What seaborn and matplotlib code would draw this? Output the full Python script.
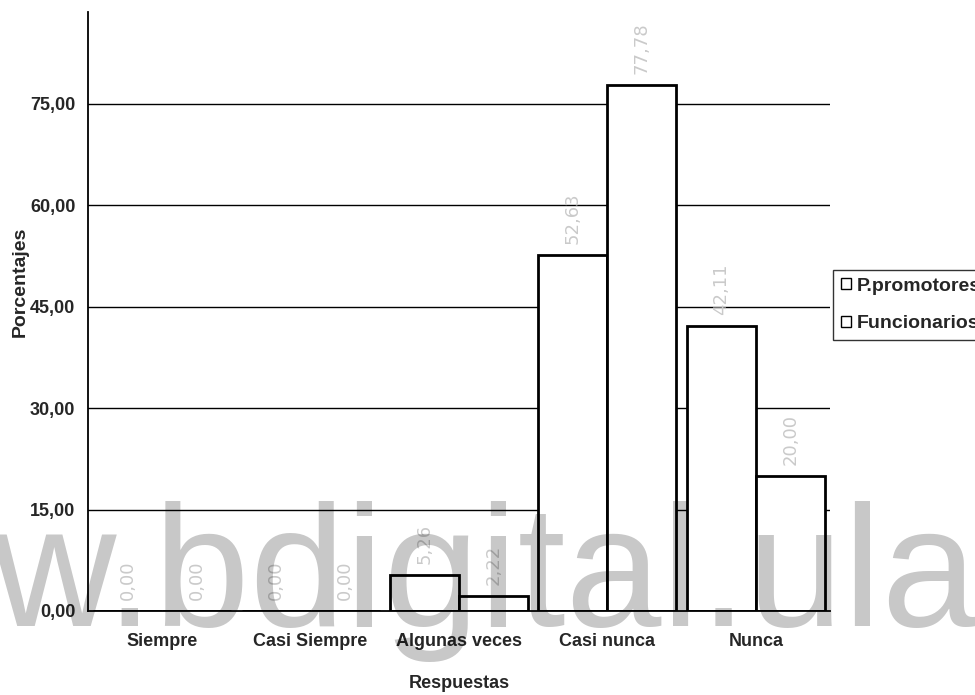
import matplotlib
matplotlib.use("Agg")
import matplotlib.pyplot as plt
from matplotlib.ticker import FuncFormatter, FixedLocator
import seaborn as sns
import pandas as pd

categorias = ["Siempre", "Casi Siempre", "Algunas veces", "Casi nunca", "Nunca"]
promotores = [0.00, 0.00, 5.26, 52.63, 42.11]
funcionarios = [0.00, 0.00, 2.22, 77.78, 20.00]
series = ["P.promotores", "Funcionarios"]
y_ticks = [0, 15, 30, 45, 60, 75]

df = pd.DataFrame({
    "Respuestas": categorias * 2,
    "Serie": [series[0]] * len(categorias) + [series[1]] * len(categorias),
    "Porcentaje": promotores + funcionarios,
})

sns.set_style("white")
FAM = ["Liberation Sans Narrow", "Liberation Sans", "DejaVu Sans"]
plt.rcParams["font.family"] = FAM

fig = plt.figure(figsize=(9.75, 6.95), dpi=100)
ax = fig.add_axes([88 / 975, 84 / 695, 742 / 975, 599 / 695])

sns.barplot(data=df, x="Respuestas", y="Porcentaje", hue="Serie",
            palette=["white", "white"], edgecolor="black", linewidth=2,
            width=0.93, saturation=1, errorbar=None, ax=ax, zorder=3)

ax.set_ylim(0, 88.6)
ax.set_xlim(-0.5, len(categorias) - 0.5)
ax.yaxis.set_major_locator(FixedLocator(y_ticks))
ax.yaxis.set_major_formatter(FuncFormatter(lambda v, p: f"{v:.2f}".replace(".", ",")))
for v in y_ticks[1:]:
    ax.axhline(v, color="black", lw=1.0, zorder=1)

for s in ["top", "right"]:
    ax.spines[s].set_visible(False)
for s in ["left", "bottom"]:
    ax.spines[s].set_color("black")
    ax.spines[s].set_linewidth(1.3)
ax.spines["bottom"].set_zorder(4)

ax.tick_params(axis="y", direction="out", length=5, width=1, color="black",
               pad=4, labelsize=13)
for t in ax.get_yticklabels():
    t.set_fontweight("bold")
ax.tick_params(axis="x", which="major", length=0, pad=16, labelsize=13)
for t in ax.get_xticklabels():
    t.set_fontweight("bold")
ax.set_xticks([i - 0.5 for i in range(len(categorias) + 1)], minor=True)
ax.tick_params(axis="x", which="minor", direction="out", length=6, width=1, color="black")

ax.set_xlabel("Respuestas", fontsize=13, fontweight="bold", labelpad=18)
ax.set_ylabel("")
fig.text(20 / 975, 1 - 282 / 695, "Porcentajes", rotation=90,
         fontsize=14, fontweight="bold", ha="center", va="center")

# value labels above each bar
for cont in ax.containers:
    for bar in cont:
        h = bar.get_height()
        ax.annotate(f"{h:.2f}".replace(".", ","),
                    (bar.get_x() + bar.get_width() / 2, h),
                    xytext=(0, 8), textcoords="offset points",
                    rotation=90, ha="center", va="bottom",
                    fontsize=13, color="#cacaca",
                    family=["DejaVu Sans"], zorder=5)

leg = ax.legend(loc="upper left", bbox_to_anchor=(833 / 975, 1 - 270 / 695),
                bbox_transform=fig.transFigure, frameon=True, fancybox=False,
                edgecolor="black", handlelength=0.5, handleheight=0.5,
                handletextpad=0.3, borderpad=0.4, labelspacing=1.05,
                borderaxespad=0, prop={"weight": "bold", "size": 14})
leg.get_frame().set_linewidth(1.0)
for h in leg.legend_handles:
    h.set_linewidth(1.0)

# translucent black watermark laid over the whole figure (darkens like ink)
fig.text(978 / 975, 1 - 626 / 695, "w.bdigital.ula", fontsize=124,
         color="black", alpha=0.215, family=["Liberation Sans", "DejaVu Sans"],
         ha="right", va="baseline", zorder=10)

fig.savefig("out.png", dpi=100)
